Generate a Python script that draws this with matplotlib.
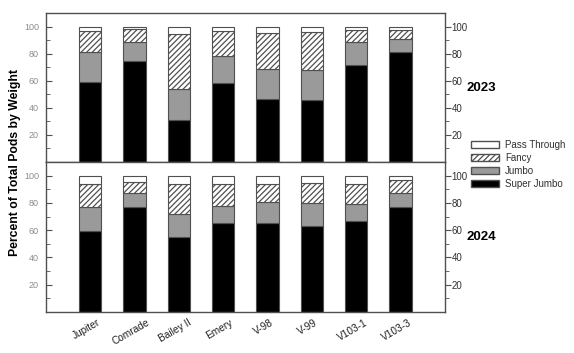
import numpy as np
import matplotlib.pyplot as plt
import matplotlib.transforms as mtransforms
from matplotlib.patches import Patch

plt.rcParams['font.family'] = ['Liberation Sans', 'DejaVu Sans']
plt.rcParams['hatch.linewidth'] = 0.9

varieties = ["Jupiter", "Comrade", "Bailey II", "Emery", "V-98", "V-99", "V103-1", "V103-3"]

# cumulative tops, converted to segment sizes below
sj_2023 = [59.2, 74.4, 30.7, 58.7, 46.4, 45.5, 71.5, 81.3]
jumbo_top_2023 = [81.6, 88.5, 53.8, 78.1, 68.8, 67.8, 88.5, 90.9]
fancy_top_2023 = [97.0, 98.0, 94.6, 97.0, 95.3, 96.3, 97.5, 97.5]

sj_2024 = [59.4, 77.1, 55.0, 65.0, 65.0, 63.3, 66.4, 77.1]
jumbo_top_2024 = [77.1, 87.3, 71.6, 78.0, 80.7, 80.0, 79.2, 87.6]
fancy_top_2024 = [93.9, 95.4, 93.9, 93.9, 93.9, 94.6, 93.9, 97.1]

edge = '#505050'
gray = '#9a9a9a'

fig = plt.figure(figsize=(5.74, 3.53), dpi=100)
ax1 = fig.add_axes([0.080, 0.541, 0.695, 0.422])
ax2 = fig.add_axes([0.080, 0.116, 0.695, 0.425])

x = np.arange(len(varieties))


def draw(ax, sj, jt, ft, year):
    sj = np.array(sj)
    jt = np.array(jt)
    ft = np.array(ft)
    ax.bar(x, sj, 0.5, color='black', edgecolor=edge, linewidth=0.8)
    ax.bar(x, jt - sj, 0.5, bottom=sj, color=gray, edgecolor=edge, linewidth=0.8)
    ax.bar(x, ft - jt, 0.5, bottom=jt, color='white', edgecolor=edge, hatch='//////', linewidth=0.8)
    ax.bar(x, 100 - ft, 0.5, bottom=ft, color='white', edgecolor=edge, linewidth=0.8)
    ax.set_xlim(-1, 8)
    ax.set_ylim(0, 110)
    ax.set_yticks([20, 40, 60, 80, 100])
    ax.set_yticks(np.arange(10, 110, 10), minor=True)
    ax.tick_params(axis='y', which='both', left=True, right=True, labelleft=True, labelright=True,
                   colors='#505050', labelsize=7, direction='out', pad=1)
    ax.tick_params(axis='y', which='major', length=4)
    ax.tick_params(axis='y', which='minor', length=3)
    # left side: inward ticks, faint labels
    for t in ax.yaxis.get_major_ticks():
        t.tick1line.set_marker(1)
        t.label1.set_color('#8c8c8c')
        t.label1.set_fontsize(6.5)
        t.label2.set_color('#303030')
    for t in ax.yaxis.get_minor_ticks():
        t.tick1line.set_marker(1)
    for s in ax.spines.values():
        s.set_color(edge)
        s.set_linewidth(1.0)
    ax.text(1.055, 0.5, year, transform=ax.transAxes, fontsize=9.5, fontweight='bold',
            va='center', ha='left')


draw(ax1, sj_2023, jumbo_top_2023, fancy_top_2023, "2023")
draw(ax2, sj_2024, jumbo_top_2024, fancy_top_2024, "2024")

ax1.set_xticks([])
ax2.set_xticks(x)
ax2.set_xticklabels(varieties, rotation=30, ha='center', fontsize=7.3, color='#202020')
ax2.tick_params(axis='x', length=0, pad=4)
shift = mtransforms.ScaledTranslation(-4 / 100, 0, fig.dpi_scale_trans)
for lab in ax2.get_xticklabels():
    lab.set_transform(lab.get_transform() + shift)

fig.text(0.027, 0.541, "Percent of Total Pods by Weight", rotation=90, fontsize=8.8,
         fontweight='bold', va='center', ha='center')

handles = [
    Patch(facecolor='white', edgecolor=edge, label='Pass Through'),
    Patch(facecolor='white', edgecolor=edge, hatch='//////', label='Fancy'),
    Patch(facecolor=gray, edgecolor=edge, label='Jumbo'),
    Patch(facecolor='black', edgecolor=edge, label='Super Jumbo'),
]
leg = fig.legend(handles=handles, loc='upper left', bbox_to_anchor=(0.8206, 0.603), frameon=False,
                 fontsize=7, handlelength=2.9, handleheight=0.8, labelspacing=0.3,
                 handletextpad=0.6, borderpad=0, borderaxespad=0)
for txt in leg.get_texts():
    txt.set_color('#303030')

fig.savefig('out.png', dpi=100)
